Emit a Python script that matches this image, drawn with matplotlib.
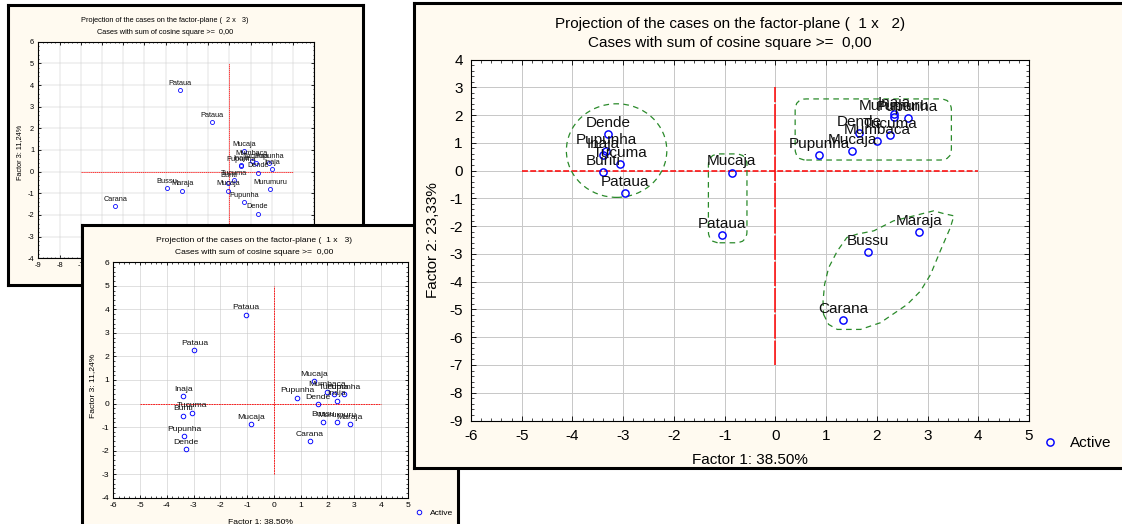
import matplotlib
matplotlib.use('Agg')
import matplotlib.pyplot as plt
from matplotlib.patches import Ellipse, FancyBboxPatch, Polygon
from matplotlib.ticker import MultipleLocator, AutoMinorLocator

plt.rcParams['font.family'] = ['Liberation Sans', 'DejaVu Sans']
plt.rcParams['axes.unicode_minus'] = False

W, H = 1122, 524
CREAM = '#fffaf0'

# factor scores of the cases
cases = ['Pataua', 'Pataua', 'Dende', 'Pupunha', 'Inaja', 'Tucuma', 'Buriti', 'Mucaja',
         'Mucaja', 'Pupunha', 'Dende', 'Mumbaca', 'Tucuma', 'Murumuru', 'Inaja', 'Pupunha',
         'Bussu', 'Maraja', 'Carana']
factor1 = [-1.06, -2.97, -3.30, -3.34, -3.39, -3.07, -3.39, -0.86,
           1.51, 0.86, 1.65, 2.00, 2.26, 2.34, 2.34, 2.61, 1.82, 2.84, 1.34]
factor2 = [-2.32, -0.82, 1.33, 0.70, 0.55, 0.22, -0.05, -0.07,
           0.70, 0.57, 1.35, 1.05, 1.27, 1.93, 2.02, 1.88, -2.93, -2.21, -5.37]
factor3 = [3.77, 2.27, -1.95, -1.40, 0.31, -0.39, -0.51, -0.87,
           0.94, 0.25, -0.04, 0.50, 0.40, -0.80, 0.12, 0.40, -0.77, -0.87, -1.59]

# hand drawn group outlines on the 1 x 2 plane
left_group = (-3.13, 0.72, 1.98, 3.37)          # centre x, centre y, width, height
middle_group = (-1.32, -2.60, 0.76, 3.20)       # x0, y0, width, height
upper_group = (0.39, 0.38, 3.08, 2.20)
lower_group_x = [0.95, 1.05, 1.22, 1.68, 2.07, 2.60, 2.86, 3.06, 3.25, 3.45, 3.52,
                 3.32, 3.12, 2.73, 2.33, 1.94, 1.61, 1.41, 1.22, 1.05, 0.97, 0.94]
lower_group_y = [-5.18, -5.54, -5.72, -5.72, -5.48, -4.82, -4.34, -3.74, -2.90, -2.05, -1.63,
                 -1.55, -1.45, -1.63, -1.81, -2.17, -2.29, -2.41, -2.90, -3.50, -4.10, -4.70]

fig = plt.figure(figsize=(W / 100, H / 100), dpi=100)


def rect(x0, y0, x1, y1):
    return [x0 / W, 1 - y1 / H, (x1 - x0) / W, (y1 - y0) / H]


def fpos(x, y):
    return x / W, 1 - y / H


def panel(frame, plot, xs, ys, xlim, ylim, hline, vline, fs, ms, z,
          title, xlab, ylab, title_xy, sub_y, xlab_xy, ylab_xy, legend_xy, lab_off, pad,
          vdash=None):
    fr = fig.add_axes(rect(*frame), zorder=z)
    fr.set_facecolor(CREAM)
    fr.set_xticks([])
    fr.set_yticks([])
    for s in fr.spines.values():
        s.set_linewidth(2.2)
    tx, ty = title_xy
    fr.text(*fpos(tx, ty), title, transform=fig.transFigure, ha='center', va='center', fontsize=fs)
    fr.text(*fpos(tx, sub_y), 'Cases with sum of cosine square >=  0,00',
            transform=fig.transFigure, ha='center', va='center', fontsize=fs)

    ax = fig.add_axes(rect(*plot), zorder=z + 0.5)
    ax.set_xlim(*xlim)
    ax.set_ylim(*ylim)
    ax.xaxis.set_major_locator(MultipleLocator(1))
    ax.yaxis.set_major_locator(MultipleLocator(1))
    ax.xaxis.set_minor_locator(AutoMinorLocator(5))
    ax.yaxis.set_minor_locator(AutoMinorLocator(5))
    ax.tick_params(which='both', direction='in', top=True, right=True, labelsize=fs, pad=pad)
    ax.tick_params(which='major', length=fs * 0.35, width=0.6)
    ax.tick_params(which='minor', length=fs * 0.18, width=0.5)
    for s in ax.spines.values():
        s.set_linewidth(0.8)
    ax.set_axisbelow(True)
    ax.grid(True, which='major', color='#c8c8c8', linewidth=fs * 0.065)

    lw = fs * 0.1
    dash = (fs * 0.35, fs * 0.14)
    ax.plot(hline, [0, 0], color='red', linewidth=lw, dashes=dash, zorder=2)
    ax.plot([0, 0], vline, color='red', linewidth=lw, dashes=vdash or dash, zorder=2)

    pts, = ax.plot(xs, ys, 'o', linestyle='none', markersize=ms, markerfacecolor='none',
                   markeredgecolor='blue', markeredgewidth=ms * 0.2, zorder=3)
    for name, x, y in zip(cases, xs, ys):
        ax.annotate(name, (x, y), xytext=(0, lab_off), textcoords='offset points',
                    ha='center', va='center', fontsize=fs, color='#111111', zorder=4)

    x0, y0, x1, y1 = plot
    ax.set_xlabel(xlab, fontsize=fs, va='center')
    ax.xaxis.set_label_coords((xlab_xy[0] - x0) / (x1 - x0), (y1 - xlab_xy[1]) / (y1 - y0))
    ax.set_ylabel(ylab, fontsize=fs, va='center')
    ax.yaxis.set_label_coords((ylab_xy[0] - x0) / (x1 - x0), (y1 - ylab_xy[1]) / (y1 - y0))

    ax.legend([pts], ['Active'], loc='center left', bbox_to_anchor=fpos(*legend_xy),
              bbox_transform=fig.transFigure, frameon=False, fontsize=fs, borderpad=0,
              borderaxespad=0, handlelength=0.8, handletextpad=0.9)
    return ax


# 2 x 3 plane (back)
panel((8, 5, 363, 285), (38.3, 41.7, 314.3, 258.3), factor2, factor3, (-9, 4), (-4, 6),
      (-7, 3), (-3, 5), 5.3, 2.9, 1,
      'Projection of the cases on the factor-plane (  2 x   3)',
      'Factor 2: 23,33%', 'Factor 3: 11,24%',
      (165, 20), 32, (176, 278), (20, 152), (320, 270), 5, 3)

# 1 x 3 plane (middle)
panel((82, 225, 458, 560), (113.3, 262.3, 407.7, 497.7), factor1, factor3, (-6, 5), (-4, 6),
      (-5, 4), (-3, 5), 6.1, 3.3, 3,
      'Projection of the cases on the factor-plane (  1 x   3)',
      'Factor 1: 38.50%', 'Factor 3: 11,24%',
      (254, 240), 252, (260, 523), (93, 386), (416, 513), 5, 3)

# 1 x 2 plane (front)
axc = panel((414, 3, 1135, 468), (471, 59.5, 1029, 420.5), factor1, factor2, (-6, 5), (-9, 4),
            (-5, 4), (-7, 3), 11, 5.2, 5,
            'Projection of the cases on the factor-plane (  1 x   2)',
            'Factor 1: 38.50%', 'Factor 2: 23,33%',
            (730, 24), 43, (750, 460), (433, 240), (1044, 443), 8, 6,
            vdash=(16, 1.2))

green = '#2a8a2a'
asp = (420.5 - 59.5) / 13
asp = (1029 - 471) / 11 / asp
cx, cy, ew, eh = left_group
shapes = [Ellipse((cx, cy), ew, eh)]
for gx, gy, gw, gh in (middle_group, upper_group):
    shapes.append(FancyBboxPatch((gx, gy), gw, gh, boxstyle='round,pad=0,rounding_size=0.22',
                                 mutation_aspect=asp))
shapes.append(Polygon(list(zip(lower_group_x, lower_group_y)), closed=True))
for shp in shapes:
    shp.set_facecolor('none')
    shp.set_edgecolor(green)
    shp.set_linewidth(0.9)
    shp.set_linestyle((0, (4.5, 3.5)))
    shp.set_zorder(2.5)
    axc.add_patch(shp)

fig.savefig('out.png', dpi=100)
